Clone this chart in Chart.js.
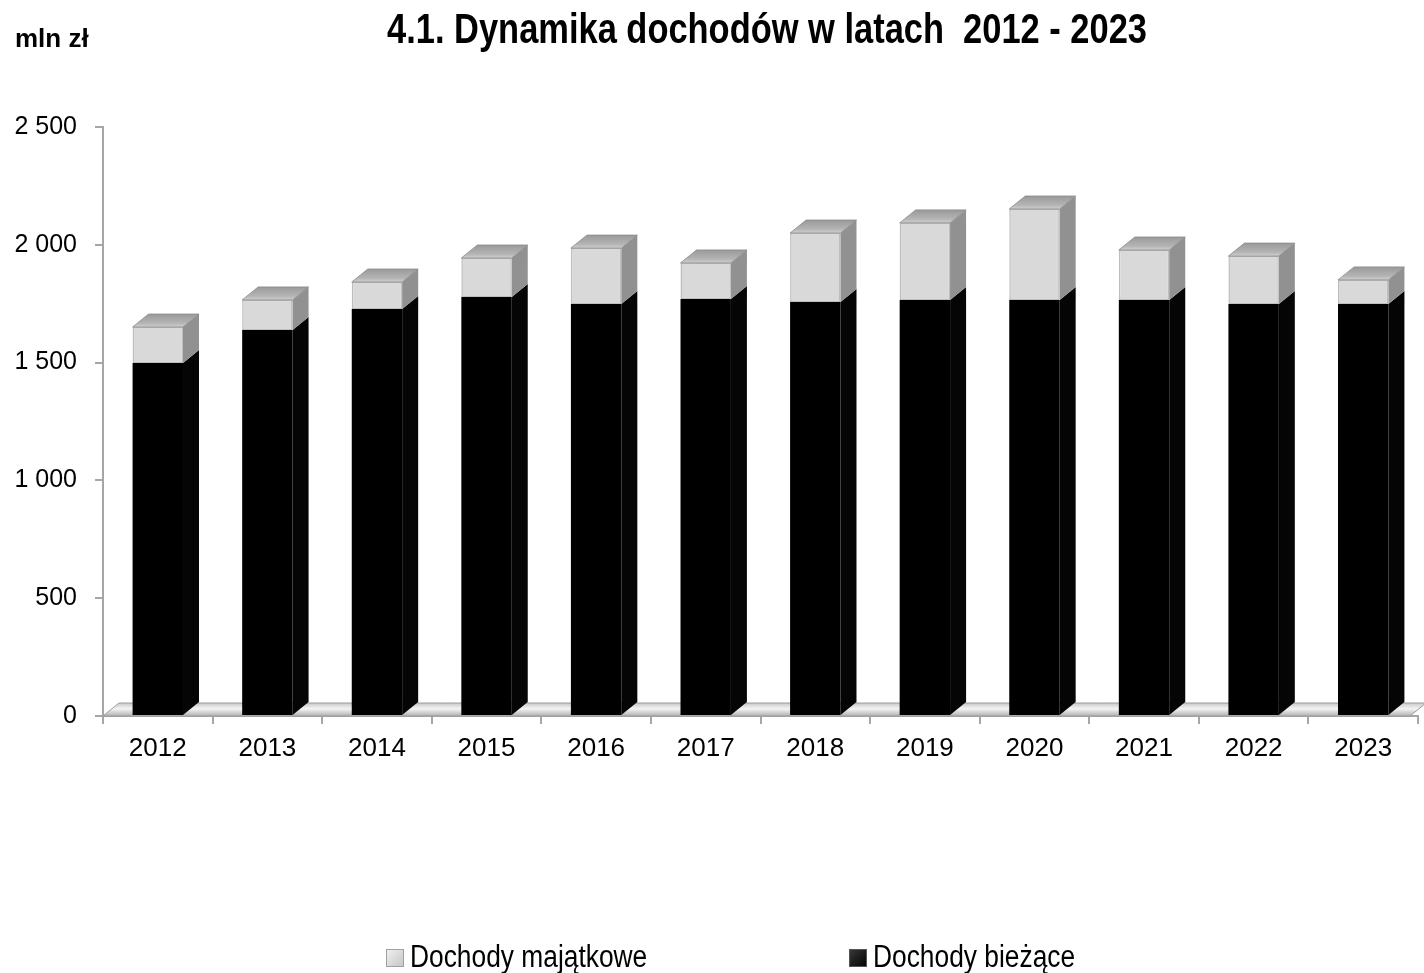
<!DOCTYPE html>
<html lang="pl">
<head>
<meta charset="utf-8">
<title>Dynamika dochodów w latach 2012 - 2023</title>
<script src="https://cdn.jsdelivr.net/npm/chart.js@4.4.1/dist/chart.umd.min.js"></script>
<style>
  html, body { margin: 0; padding: 0; background: #fff; }
  #wrap { width: 1424px; height: 973px; position: relative; }
</style>
</head>
<body>
<div id="wrap"><canvas id="chart"></canvas></div>
<script>
// Dochody budżetu w mln zł
const years = ['2012', '2013', '2014', '2015', '2016', '2017', '2018', '2019', '2020', '2021', '2022', '2023'];
const dochodyBiezace = [1498, 1638, 1727, 1778, 1749, 1770, 1757, 1766, 1766, 1766, 1749, 1749];
const dochodyMajatkowe = [153, 128, 115, 166, 237, 153, 293, 327, 386, 212, 203, 102];
const yTicks = [0, 500, 1000, 1500, 2000, 2500];

const TITLE = '4.1. Dynamika dochodów w latach  2012 - 2023';
const UNIT = 'mln zł';
const SANS = '"Liberation Sans", Arial, sans-serif';

// głębia "3D" słupków i podłogi
const DX = 16, DY = -13;

function fmt(v) {
  if (v < 1000) return String(v);
  return Math.floor(v / 1000) + ' ' + String(v % 1000).padStart(3, '0');
}

// tekst zwężony poziomo (krój typu "narrow")
function narrowText(ctx, text, x, y, sx) {
  ctx.save();
  ctx.translate(x, y);
  ctx.scale(sx, 1);
  ctx.fillText(text, 0, 0);
  ctx.restore();
}

const bars3d = {
  id: 'bars3d',
  beforeDatasetsDraw(chart) {
    const { ctx, chartArea: a } = chart;
    const right = a.right - 8;
    ctx.save();
    const g = ctx.createLinearGradient(0, a.bottom + DY, 0, a.bottom);
    g.addColorStop(0, '#c8c8c8');
    g.addColorStop(0.45, '#f4f4f4');
    g.addColorStop(1, '#b0b0b0');
    ctx.beginPath();
    ctx.moveTo(a.left, a.bottom);
    ctx.lineTo(right, a.bottom);
    ctx.lineTo(right + DX, a.bottom + DY);
    ctx.lineTo(a.left + DX, a.bottom + DY);
    ctx.closePath();
    ctx.fillStyle = g;
    ctx.fill();
    ctx.strokeStyle = '#9c9c9c';
    ctx.lineWidth = 1;
    ctx.stroke();
    ctx.restore();
  },
  afterDatasetsDraw(chart) {
    const { ctx } = chart;
    const sides = ['#050505', '#919191'];
    ctx.save();
    years.forEach((_, i) => {
      let topBar = null;
      chart.data.datasets.forEach((ds, d) => {
        const el = chart.getDatasetMeta(d).data[i];
        if (!el) return;
        const { x, y, base, width } = el.getProps(['x', 'y', 'base', 'width'], true);
        const r = x + width / 2;
        // bok słupka
        ctx.beginPath();
        ctx.moveTo(r, y);
        ctx.lineTo(r + DX, y + DY);
        ctx.lineTo(r + DX, base + DY);
        ctx.lineTo(r, base);
        ctx.closePath();
        ctx.fillStyle = sides[d];
        ctx.fill();
        if (ds.data[i] > 0) topBar = { x, y, width };
      });
      if (!topBar) return;
      // wierzch słupka
      const l = topBar.x - topBar.width / 2, r = topBar.x + topBar.width / 2, y = topBar.y;
      const g = ctx.createLinearGradient(0, y + DY, 0, y);
      g.addColorStop(0, '#9a9a9a');
      g.addColorStop(0.7, '#b4b4b4');
      g.addColorStop(1, '#d0d0d0');
      ctx.beginPath();
      ctx.moveTo(l, y);
      ctx.lineTo(r, y);
      ctx.lineTo(r + DX, y + DY);
      ctx.lineTo(l + DX, y + DY);
      ctx.closePath();
      ctx.fillStyle = g;
      ctx.fill();
      ctx.strokeStyle = '#8a8a8a';
      ctx.lineWidth = 0.8;
      ctx.stroke();
    });
    ctx.restore();
  },
  afterDraw(chart) {
    const { ctx } = chart;
    ctx.save();
    ctx.fillStyle = '#000';
    // tytuł
    ctx.font = 'bold 42px ' + SANS;
    ctx.textAlign = 'center';
    ctx.textBaseline = 'middle';
    narrowText(ctx, TITLE, 767, 31, 0.82);
    // jednostka osi Y
    ctx.font = 'bold 26px ' + SANS;
    ctx.textAlign = 'left';
    ctx.textBaseline = 'alphabetic';
    ctx.fillText(UNIT, 15, 47);
    // legenda: majątkowe, potem bieżące
    const items = [
      { ds: 1, x: 386, fill: ['#f2f2f2', '#c4c4c4'], stroke: '#a0a0a0' },
      { ds: 0, x: 849, fill: ['#3a3a3a', '#000'], stroke: '#555' }
    ];
    ctx.font = '31px ' + SANS;
    ctx.textBaseline = 'middle';
    items.forEach(it => {
      const y = 958;
      const g = ctx.createLinearGradient(it.x, y - 9, it.x + 18, y + 9);
      g.addColorStop(0, it.fill[0]);
      g.addColorStop(1, it.fill[1]);
      ctx.fillStyle = g;
      ctx.fillRect(it.x, y - 9, 18, 18);
      ctx.strokeStyle = it.stroke;
      ctx.lineWidth = 1;
      ctx.strokeRect(it.x + 0.5, y - 8.5, 17, 17);
      ctx.fillStyle = '#000';
      narrowText(ctx, chart.data.datasets[it.ds].label, it.x + 24, y, 0.85);
    });
    ctx.restore();
  }
};

new Chart(document.getElementById('chart'), {
  type: 'bar',
  data: {
    labels: years,
    datasets: [
      {
        label: 'Dochody bieżące',
        data: dochodyBiezace,
        backgroundColor: '#000',
        borderWidth: 0
      },
      {
        label: 'Dochody majątkowe',
        data: dochodyMajatkowe,
        backgroundColor: '#d9d9d9',
        borderColor: '#bdbdbd',
        borderWidth: 1.5,
        borderSkipped: false
      }
    ]
  },
  options: {
    responsive: true,
    maintainAspectRatio: false,
    animation: false,
    layout: { padding: { left: 14, right: 6, top: 127, bottom: 0 } },
    datasets: { bar: { categoryPercentage: 1, barPercentage: 0.46 } },
    plugins: {
      legend: { display: false },
      tooltip: { enabled: false }
    },
    scales: {
      x: {
        stacked: true,
        grid: { display: true, drawOnChartArea: false, offset: true, tickLength: 8, color: '#a6a6a6', lineWidth: 2 },
        border: { color: '#a6a6a6', width: 2 },
        ticks: { color: '#000', padding: 9, font: { family: SANS, size: 26 } },
        afterFit(scale) { scale.height = 257; }
      },
      y: {
        stacked: true,
        min: 0,
        max: 2500,
        afterBuildTicks(axis) { axis.ticks = yTicks.map(v => ({ value: v })); },
        grid: { drawOnChartArea: false, tickLength: 8, color: '#a6a6a6', lineWidth: 2 },
        border: { color: '#a6a6a6', width: 2 },
        ticks: { color: '#000', padding: 18, font: { family: SANS, size: 25 }, callback: v => fmt(v) },
        afterFit(scale) { scale.width = 89; }
      }
    }
  },
  plugins: [bars3d]
});
</script>
</body>
</html>
